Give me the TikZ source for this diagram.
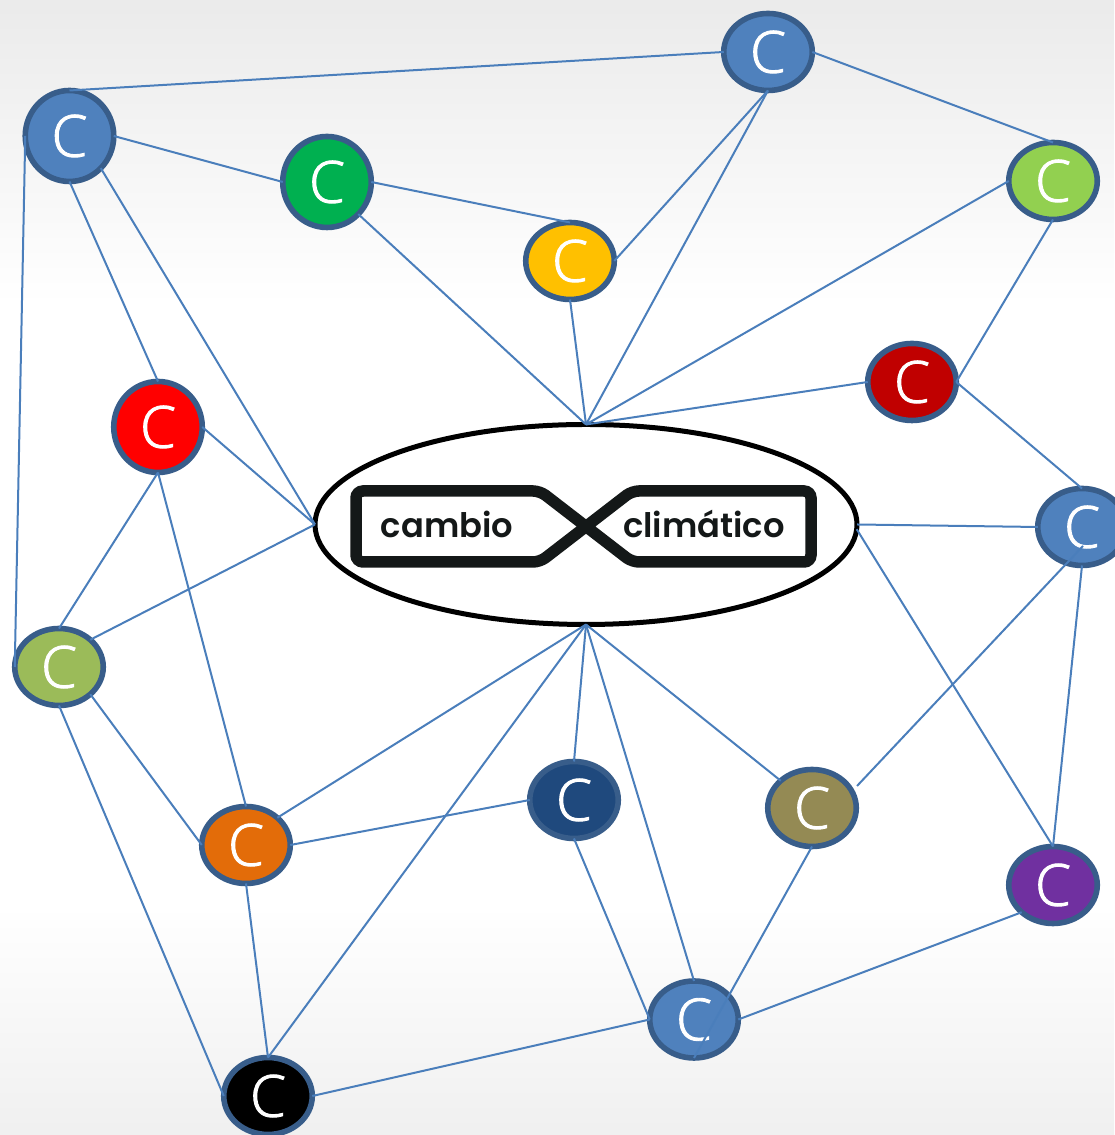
\documentclass[tikz,border=0pt]{standalone}
\usepackage{fontspec}
\setmainfont[FakeBold=1.6]{Open Sans Light}
\newfontfamily\logofont{Poppins SemiBold}
\usetikzlibrary{shapes.geometric}
\definecolor{edgeblue}{HTML}{4A7EBB}
\definecolor{ringblue}{HTML}{385D8A}
\definecolor{logoblack}{HTML}{141818}
\newcommand{\letterC}{\raisebox{-0.4mm}{C}}
\tikzset{
	link/.style={draw=edgeblue, line width=0.02cm},
	circ/.style={ellipse, draw=ringblue, line width=0.056cm, minimum width=0.885cm, minimum height=0.77cm, inner sep=0, outer sep=0, text=white, font=\fontsize{16.5}{16.5}\selectfont},
	bigcirc/.style={circ, minimum height=0.91cm},
	logotext/.style={font=\logofont\fontsize{9.6}{9.6}\selectfont, text=logoblack, inner sep=0}
}
\begin{document}
\begin{tikzpicture}
	\useasboundingbox (0,0) rectangle (11.14,11.35);
	\shade [top color=black!8, bottom color=white] (0,8.3) rectangle (11.14,11.35);
	\shade [top color=white, bottom color=black!6] (0,0) rectangle (11.14,2.3);

	\draw (7.68,10.83) node[circ, fill={rgb,255:red,79;green,129;blue,189}] (blue1) {\letterC};
	\draw (0.695,9.99) node[bigcirc, fill={rgb,255:red,79;green,129;blue,189}] (blue2) {\letterC};
	\draw (3.27,9.53) node[bigcirc, fill={rgb,255:red,0;green,176;blue,80}] (green) {\letterC};
	\draw (5.70,8.74) node[circ, fill={rgb,255:red,255;green,192;blue,0}] (yellow) {\letterC};
	\draw (10.53,9.54) node[circ, fill={rgb,255:red,146;green,208;blue,80}] (lime) {\letterC};
	\draw (9.12,7.53) node[circ, fill={rgb,255:red,192;green,0;blue,0}] (darkred) {\letterC};
	\draw (1.58,7.08) node[bigcirc, fill=red] (red) {\letterC};
	\draw (10.82,6.08) node[circ, fill={rgb,255:red,79;green,129;blue,189}] (blue3) {\letterC};
	\draw (0.59,4.68) node[circ, fill={rgb,255:red,155;green,187;blue,89}] (olive) {\letterC};
	\draw (2.46,2.90) node[circ, fill={rgb,255:red,227;green,108;blue,9}] (orange) {\letterC};
	\draw (5.74,3.35) node[circ, fill={rgb,255:red,31;green,73;blue,125}] (navy) {\letterC};
	\draw (8.12,3.27) node[circ, fill={rgb,255:red,148;green,138;blue,84}] (khaki) {\letterC};
	\draw (10.53,2.50) node[circ, fill={rgb,255:red,112;green,48;blue,160}] (purple) {\letterC};
	\draw (6.94,1.155) node[circ, fill={rgb,255:red,79;green,129;blue,189}] (blue4) {\letterC};
	\draw (2.68,0.39) node[circ, fill=black] (black) {\letterC};
	\coordinate (khakiend) at (8.57,3.49);
	\coordinate (blueend) at (10.83,5.89);

	\draw (5.86,6.105) node[ellipse, draw=black, line width=0.05cm, fill=white, minimum width=5.42cm, minimum height=2.0cm, inner sep=0, outer sep=0] (center) {};

	\draw [logoblack, line width=0.115cm, rounded corners=0.07cm] (5.86,6.085) -- (5.40,6.44) -- (3.56,6.44) -- (3.56,5.73) -- (5.40,5.73) -- (5.86,6.085) -- (6.32,6.44) -- (8.11,6.44) -- (8.11,5.73) -- (6.32,5.73) -- cycle;
	\draw (4.47,6.11) node[logotext] (cambio) {cambio};
	\draw (7.04,6.11) node[logotext] (climatico) {climático};

	\draw [link] (blue1.west) -- (blue2.north);
	\draw [link] (blue1.south) -- (center.north);
	\draw [link] (blue1.south) -- (yellow.east);
	\draw [link] (blue1.east) -- (lime.north);
	\draw [link] (blue2.east) -- (green.west);
	\draw [link] (blue2.west) -- (olive.west);
	\draw [link] (blue2.south) -- (red.north);
	\draw [link] (blue2.south east) -- (center.west);
	\draw [link] (green.east) -- (yellow.north);
	\draw [link] (green.south east) -- (center.north);
	\draw [link] (yellow.south) -- (center.north);
	\draw [link] (lime.west) -- (center.north);
	\draw [link] (lime.south) -- (darkred.east);
	\draw [link] (darkred.west) -- (center.north);
	\draw [link] (darkred.east) -- (blue3.north);
	\draw [link] (red.east) -- (center.west);
	\draw [link] (red.south) -- (olive.north);
	\draw [link] (red.south) -- (orange.north);
	\draw [link] (olive.north east) -- (center.west);
	\draw [link] (olive.south east) -- (orange.west);
	\draw [link] (olive.south) -- (black.west);
	\draw [link] (orange.north east) -- (center.south);
	\draw [link] (orange.east) -- (navy.west);
	\draw [link] (orange.south) -- (black.north);
	\draw [link] (black.north) -- (center.south);
	\draw [link] (black.east) -- (blue4.west);
	\draw [link] (navy.north) -- (center.south);
	\draw [link] (navy.south) -- (blue4.west);
	\draw [link] (khaki.north west) -- (center.south);
	\draw [link] (khaki.south) -- (blue4.south);
	\draw [link] (blue4.north) -- (center.south);
	\draw [link] (blue4.east) -- (purple.south west);
	\draw [link] (center.east) -- (blue3.west);
	\draw [link] (center.359) -- (purple.north);
	\draw [link] (blue3.south) -- (purple.north);
	\draw [link] (blueend) -- (khakiend);
\end{tikzpicture}
\end{document}
